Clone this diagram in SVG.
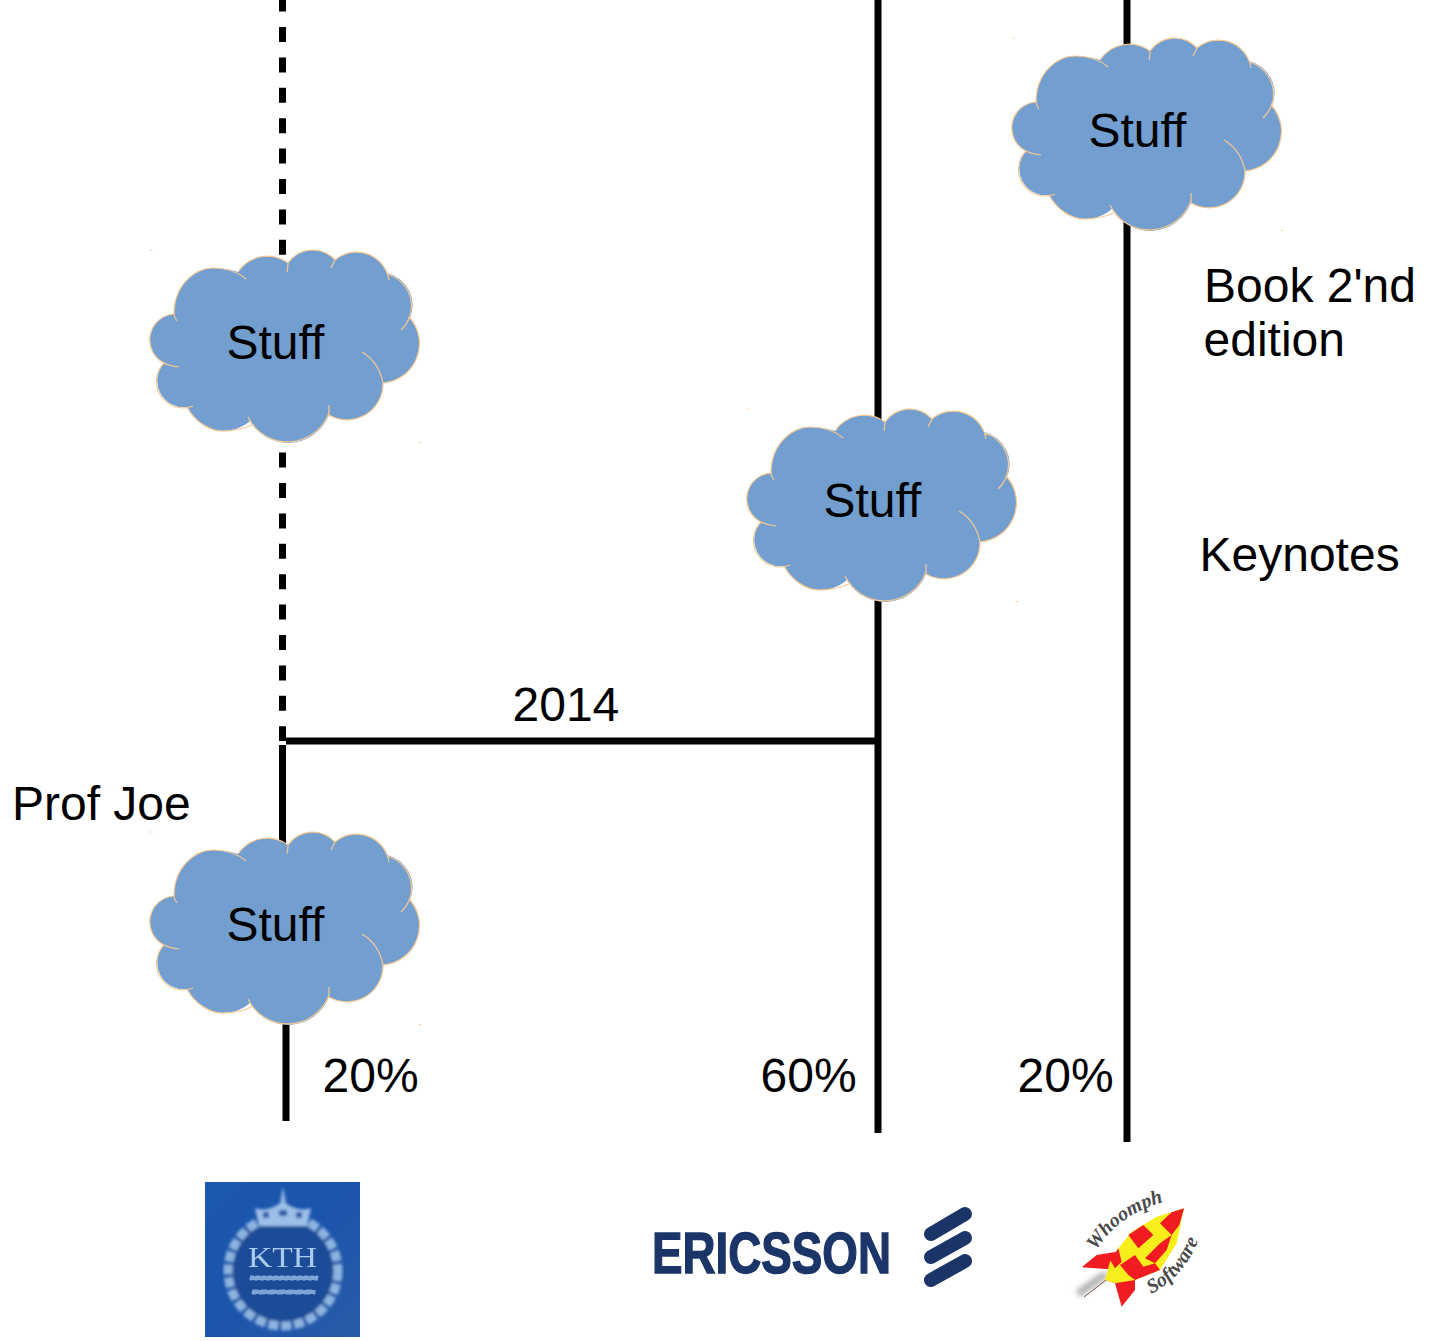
<svg xmlns="http://www.w3.org/2000/svg" width="1441" height="1341" viewBox="0 0 1441 1341">
<style>
text{font-family:"Liberation Sans",Arial,sans-serif;font-size:48px;fill:#000}
.ln{stroke:#000;stroke-width:7;fill:none}
.fill{fill:#729fcf;stroke:none}
.edge{fill:none;stroke:#f8c893;stroke-width:1.200}
.dot{fill:#f8c893}
.wh{font-family:"Liberation Serif",serif;font-style:italic;font-weight:bold;font-size:20px;fill:#4a4a4a}
</style>
<defs>
<filter id="b1" x="-5%" y="-5%" width="110%" height="110%"><feGaussianBlur stdDeviation="1.8"/></filter>
<filter id="b2" x="-5%" y="-5%" width="110%" height="110%"><feGaussianBlur stdDeviation="0.6"/></filter>
<filter id="b3" x="-30%" y="-30%" width="160%" height="160%"><feGaussianBlur stdDeviation="2.5"/></filter>
<linearGradient id="kth" x1="0" y1="0" x2="1" y2="1"><stop offset="0" stop-color="#1a58ae"/><stop offset="0.5" stop-color="#1c54ac"/><stop offset="1" stop-color="#2a5ba6"/></linearGradient>
<g id="cloud">
<path class="fill" d="M174 314C174 285 195 268 213 268C222 268 232 270 238 272A35 35 0 0 1 288 263A30 30 0 0 1 335 260A33 33 0 0 1 387 273A33 33 0 0 1 410 318A39.500 39.500 0 0 1 383 383A36 36 0 0 1 329 415A44 44 0 0 1 250 421C240 430 228 431 222 431C210 431 195 422 187 407A26.500 26.500 0 0 1 164 363A25.900 25.900 0 0 1 174 314Z"/>
<path class="edge" d="M177 321Q174 317 174 314C174 285 195 268 213 268C226 268 238 272 246 279M238 272A35 35 0 0 1 288 263Q288 267 287 272M288 263A30 30 0 0 1 335 260L331 268M335 260A33 33 0 0 1 389 280M387 274A33 33 0 0 1 401 330M410 318A39.500 39.500 0 0 1 383 383M362 352Q379 362 383 383A36 36 0 0 1 329 415Q329 410 329 405M329 413A44 44 0 0 1 248 417M252 425C240 430 228 431 222 431C210 431 195 422 187 407M193 406A26.500 26.500 0 0 1 164 363Q170 366 179 367M164 363A25.900 25.900 0 0 1 175 314"/>
<rect class="dot" x="150.500" y="249.500" width="2" height="1"/>
<rect class="dot" x="419" y="442" width="2" height="1"/>
</g>
</defs>

<g id="connectors">
<line class="ln" x1="282.500" y1="-3.400" x2="282.500" y2="741" stroke-dasharray="15 15.400"/>
<line class="ln" x1="282.500" y1="745" x2="282.500" y2="850"/>
<line class="ln" x1="286" y1="1015" x2="286" y2="1121"/>
<line class="ln" x1="286" y1="741" x2="881" y2="741"/>
<line class="ln" x1="878" y1="0" x2="878" y2="1133"/>
<line class="ln" x1="1127" y1="0" x2="1127" y2="1142"/>
</g>

<g id="cloud-1"><use href="#cloud"/><text x="226.500" y="359">Stuff</text></g>
<g id="cloud-2"><use href="#cloud" transform="translate(597 159)"/><text x="823.500" y="517">Stuff</text></g>
<g id="cloud-3"><use href="#cloud" transform="translate(862 -212)"/><text x="1088.500" y="147">Stuff</text></g>
<g id="cloud-4"><use href="#cloud" transform="translate(0 582)"/><text x="226.500" y="941">Stuff</text></g>

<g id="labels">
<text x="1204" y="302">Book 2'nd</text>
<text x="1203.500" y="356">edition</text>
<text x="1199.500" y="571">Keynotes</text>
<text x="12" y="820">Prof Joe</text>
<text x="512.500" y="721">2014</text>
<text x="322.500" y="1092">20%</text>
<text x="760.500" y="1092">60%</text>
<text x="1017.500" y="1092">20%</text>
</g>

<g id="logo-kth">
<rect x="205" y="1182" width="155" height="155" fill="url(#kth)"/>
<g filter="url(#b1)">
<circle cx="283" cy="1271" r="55" fill="#1b4c98" stroke="#8db4e0" stroke-width="9" stroke-dasharray="10 3"/>
<path d="M259 1226L255 1208Q268 1213 283 1201Q298 1213 311 1208L307 1226Z" fill="#9cbfe8"/>
<path d="M263 1212h6v6h-6zM279 1210h8v6h-8zM296 1212h6v6h-6z" fill="#2a5ba8"/>
<path d="M280 1202L283 1187L286 1202Z" fill="#8fb6e2"/>
</g>
<text x="248" y="1267" textLength="69" lengthAdjust="spacingAndGlyphs" style="font-family:'Liberation Serif',serif;font-size:29px;fill:#a9cbee" filter="url(#b2)">KTH</text>
<g filter="url(#b2)" fill="#9fc2ea" opacity="0.75">
<path d="M250 1276h68v4h-68z" stroke="#9fc2ea" stroke-dasharray="4 2"/>
<path d="M252 1290h63v4h-63z" stroke="#9fc2ea" stroke-dasharray="6 3"/>
</g>
</g>

<g id="logo-ericsson">
<text x="652" y="1273" textLength="239" lengthAdjust="spacingAndGlyphs" style="font-size:58px;font-weight:bold;fill:#1b3568;stroke:#1b3568;stroke-width:1.400">ERICSSON</text>
<g stroke="#1b3568" stroke-width="14" stroke-linecap="round" fill="none">
<line x1="931" y1="1234" x2="965" y2="1214"/>
<line x1="931" y1="1257" x2="965" y2="1238"/>
<line x1="931" y1="1280" x2="965" y2="1261"/>
</g>
</g>

<g id="logo-whoomph">
<path d="M1078 1294Q1090 1285 1106 1274" stroke="#b5b5b5" stroke-width="8" fill="none" filter="url(#b3)"/>
<path d="M1084 1297L1106 1280" stroke="#7a5a50" stroke-width="1"/>
<g transform="translate(1060 1180) scale(.33333)" filter="url(#b2)">
<path d="M170 215L110 225L65 262L150 268L170 285L135 300L165 310L185 380L225 330L225 300L200 250Z" fill="#f01c20"/>
<path d="M372 85L290 110L215 155L175 205L150 245L135 300L165 310L225 300L300 270L350 190Z" fill="#f7ee1c"/>
<path d="M372 85L335 97L300 130L335 165L358 135ZM250 135L205 165L235 205L280 165ZM335 165L300 190L255 235L285 250L320 210ZM180 255L225 225L250 260L205 285ZM150 240L175 205L185 245L165 265ZM225 300L205 285L250 260L285 250L300 270Z" fill="#f01c20"/>
</g>
<defs>
<path id="wh1" d="M1096 1251Q1120 1211 1172 1200"/>
<path id="wh2" d="M1151 1294Q1193 1272 1204 1220"/>
</defs>
<text class="wh"><textPath href="#wh1">Whoomph</textPath></text>
<text class="wh"><textPath href="#wh2">Software</textPath></text>
</g>
</svg>
